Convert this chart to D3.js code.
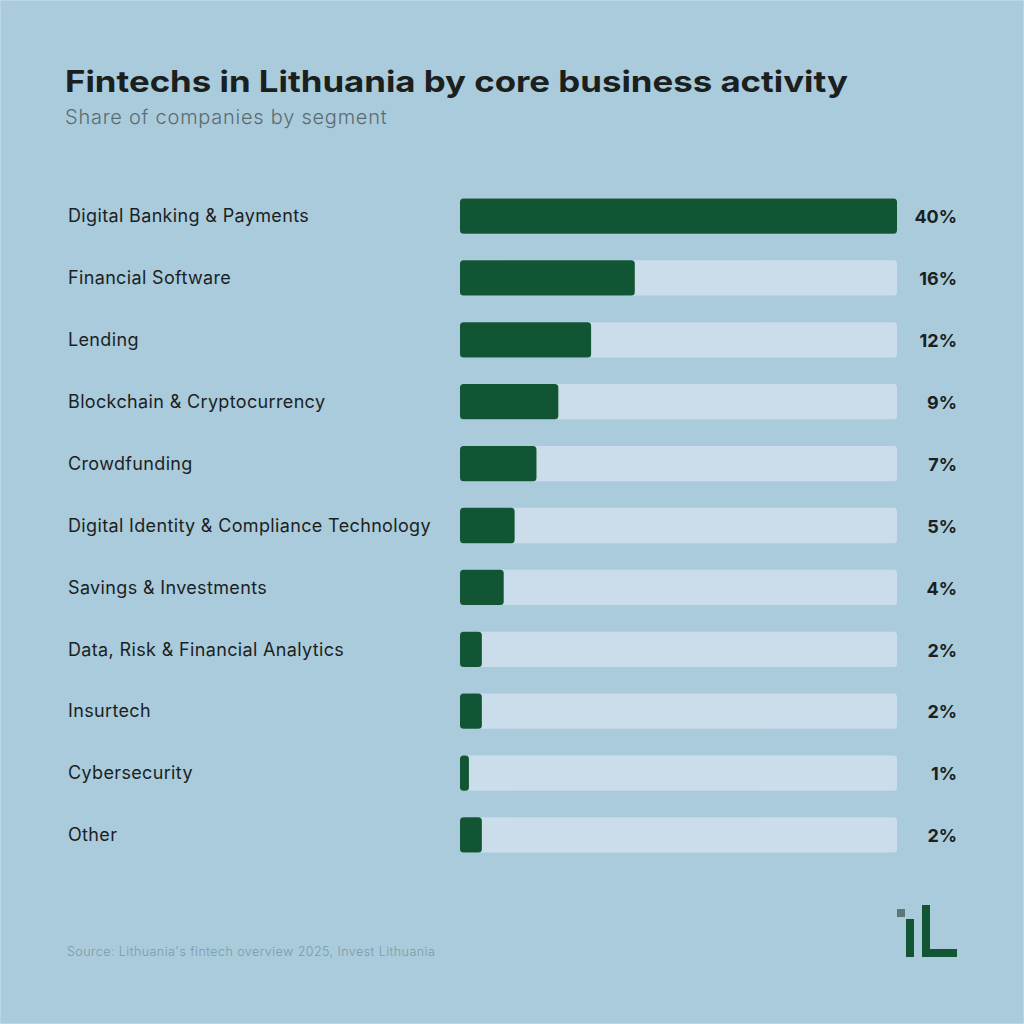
<!DOCTYPE html>
<html><head><meta charset="utf-8">
<script src="https://cdn.jsdelivr.net/npm/d3@7"></script>
<style>html,body{margin:0;padding:0;background:#a9cbdc;}svg{display:block;}</style>
</head><body>
<script>
const categories = ["Digital Banking & Payments","Financial Software","Lending","Blockchain & Cryptocurrency","Crowdfunding","Digital Identity & Compliance Technology","Savings & Investments","Data, Risk & Financial Analytics","Insurtech","Cybersecurity","Other"];
const values = [40,16,12,9,7,5,4,2,2,1,2];
const valueLabels = ["40%","16%","12%","9%","7%","5%","4%","2%","2%","1%","2%"];
const title = "Fintechs in Lithuania by core business activity";
const subtitle = "Share of companies by segment";
const source = "Source: Lithuania's fintech overview 2025, Invest Lithuania";

const W = 1024, H = 1024;
const svg = d3.select("body").append("svg").attr("width", W).attr("height", H);
svg.append("rect").attr("width", W).attr("height", H).attr("fill", "#a9cbdc");
svg.append("rect").attr("x",0.5).attr("y",0.5).attr("width",W-1).attr("height",H-1).attr("fill","none").attr("stroke","#bcd6e2").attr("stroke-width",1);

const font = "Inter, 'Open Sans', sans-serif";
svg.append("text").attr("x", 65).attr("y", 92).text(title)
  .attr("font-family", font).attr("font-weight", 700).attr("font-size", 29.5).attr("fill", "#1b1f1e")
  .attr("textLength", 783).attr("lengthAdjust","spacingAndGlyphs");
svg.append("text").attr("x", 65).attr("y", 124).text(subtitle)
  .attr("font-family", font).attr("font-weight", 300).attr("font-size", 20).attr("letter-spacing", 0.75).attr("fill", "#5c6b70");

const x = d3.scaleLinear().domain([0, 40]).range([460, 897]);
const y = d3.scaleBand().domain(categories).range([186, 865]).paddingInner(0.43).paddingOuter(0.2);

const g = svg.append("g");
const rows = g.selectAll("g.row").data(categories).join("g").attr("class","row");
rows.append("rect").attr("x", x(0)).attr("y", d => y(d)).attr("width", x(40)-x(0)).attr("height", y.bandwidth())
  .attr("rx", 3.5).attr("fill", "#cbddeb");
rows.append("rect").attr("x", x(0)).attr("y", d => y(d)).attr("width", (d,i) => Math.max(x(values[i]) - x(0) - (values[i]===1?2:0), 4)).attr("height", y.bandwidth())
  .attr("rx", 3.5).attr("fill", "#125535");
rows.append("text").attr("x", 68).attr("y", d => y(d) + y.bandwidth()/2).attr("dy","0.35em")
  .text(d => d).attr("font-family", font).attr("font-size", 18).attr("letter-spacing", 0.35).attr("fill", "#1c1f1f");
rows.append("text").attr("x", 957).attr("y", d => y(d) + y.bandwidth()/2 + 1).attr("dy","0.35em").attr("text-anchor","end")
  .text((d,i) => valueLabels[i]).attr("font-family", font).attr("font-weight", 700).attr("font-size", 18).attr("fill", "#1c1f1f");

svg.append("text").attr("x", 67).attr("y", 956).text(source)
  .attr("font-family", font).attr("font-weight", 300).attr("font-size", 12.5).attr("letter-spacing", 0.45).attr("fill", "#7a9aa6");

// logo
const logo = svg.append("g");
logo.append("rect").attr("x", 897).attr("y", 909).attr("width", 8).attr("height", 8).attr("fill", "#5f7577");
logo.append("rect").attr("x", 906).attr("y", 919).attr("width", 8).attr("height", 38).attr("fill", "#125535");
logo.append("rect").attr("x", 922).attr("y", 905).attr("width", 8).attr("height", 52).attr("fill", "#125535");
logo.append("rect").attr("x", 922).attr("y", 949).attr("width", 35).attr("height", 8).attr("fill", "#125535");
</script>
</body></html>
